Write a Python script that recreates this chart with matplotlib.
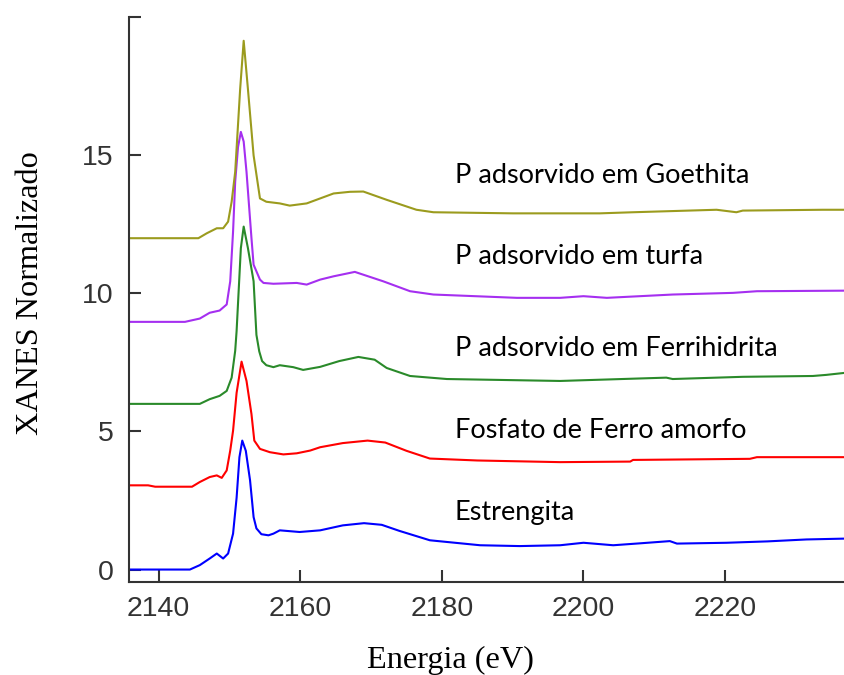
import matplotlib
matplotlib.use("Agg")
import matplotlib.pyplot as plt

# energia (eV) e intensidade XANES normalizada (com deslocamento vertical)
estrengita_e = [2135.8, 2144.4, 2145.8, 2147.2, 2148.2, 2149.1, 2149.8, 2150.5, 2151.0, 2151.4,
                2151.8, 2152.3, 2152.9, 2153.4, 2153.8, 2154.5, 2155.5, 2156.2, 2157.1, 2159.9,
                2162.8, 2166.0, 2169.0, 2171.5, 2174.0, 2178.3, 2185.4, 2191.0, 2196.7, 2200.0,
                2204.2, 2208.0, 2212.2, 2213.2, 2220.2, 2226.0, 2231.5, 2236.8]
estrengita_y = [0.0, 0.0, 0.16, 0.40, 0.58, 0.40, 0.58, 1.3, 2.6, 4.07,
                4.67, 4.3, 3.23, 1.9, 1.49, 1.28, 1.24, 1.3, 1.42, 1.36,
                1.42, 1.6, 1.68, 1.62, 1.4, 1.06, 0.88, 0.85, 0.88, 0.97,
                0.88, 0.95, 1.03, 0.94, 0.97, 1.02, 1.09, 1.12]

fosfato_e = [2135.8, 2138.5, 2139.5, 2144.7, 2145.8, 2147.2, 2148.2, 2148.9, 2149.6, 2150.1,
             2150.5, 2151.0, 2151.7, 2152.4, 2153.1, 2153.5, 2154.3, 2155.7, 2157.6, 2159.5,
             2161.4, 2162.8, 2166.0, 2169.5, 2172.0, 2175.0, 2178.3, 2185.0, 2196.7, 2206.6,
             2207.0, 2223.5, 2224.5, 2236.8]
fosfato_y = [3.05, 3.05, 3.0, 3.0, 3.17, 3.35, 3.41, 3.32, 3.59, 4.31,
             5.03, 6.4, 7.53, 6.83, 5.63, 4.67, 4.37, 4.25, 4.17, 4.21,
             4.31, 4.43, 4.58, 4.67, 4.6, 4.3, 4.02, 3.95, 3.89, 3.91,
             3.97, 4.01, 4.07, 4.07]

ferri_e = [2135.8, 2145.8, 2147.2, 2148.6, 2149.6, 2150.3, 2150.8, 2151.0, 2151.6, 2152.0,
           2152.6, 2153.4, 2153.8, 2154.2, 2154.6, 2155.2, 2156.2, 2157.1, 2159.0, 2160.4,
           2162.8, 2165.5, 2168.2, 2170.5, 2172.2, 2175.5, 2180.7, 2196.7, 2211.7, 2212.6,
           2222.5, 2232.4, 2234.3, 2236.8]
ferri_y = [6.0, 6.0, 6.17, 6.29, 6.47, 6.95, 7.92, 8.64, 11.64, 12.42,
           11.64, 10.44, 8.5, 7.9, 7.55, 7.4, 7.33, 7.4, 7.33, 7.23,
           7.34, 7.55, 7.7, 7.6, 7.3, 7.01, 6.9, 6.83, 6.95, 6.9,
           6.98, 7.01, 7.05, 7.12]

turfa_e = [2135.8, 2143.7, 2145.8, 2147.2, 2148.6, 2149.6, 2150.1, 2150.5, 2150.8, 2151.2,
           2151.6, 2152.0, 2152.4, 2153.1, 2153.4, 2153.8, 2154.3, 2154.8, 2156.2, 2159.5,
           2160.9, 2162.8, 2164.7, 2167.7, 2171.7, 2175.5, 2178.8, 2190.6, 2196.7, 2200.0,
           2203.3, 2212.6, 2221.1, 2224.5, 2236.8]
turfa_y = [8.97, 8.97, 9.09, 9.3, 9.38, 9.6, 10.44, 12.24, 14.05, 15.3,
           15.85, 15.5, 14.4, 12.0, 11.04, 10.8, 10.5, 10.38, 10.35, 10.38,
           10.32, 10.5, 10.62, 10.78, 10.44, 10.08, 9.96, 9.84, 9.84, 9.9,
           9.84, 9.96, 10.02, 10.08, 10.1]

goethita_e = [2135.8, 2145.6, 2146.8, 2148.2, 2149.1, 2149.8, 2150.3, 2150.8, 2151.5, 2152.0,
              2152.6, 2153.4, 2154.3, 2155.2, 2157.1, 2158.5, 2160.9, 2164.7, 2167.0, 2168.9,
              2172.2, 2176.4, 2178.8, 2190.0, 2202.3, 2207.0, 2218.8, 2221.6, 2222.5, 2233.8,
              2236.8]
goethita_y = [12.0, 12.0, 12.18, 12.36, 12.36, 12.6, 13.32, 14.4, 17.4, 19.15,
              17.4, 15.0, 13.44, 13.32, 13.26, 13.18, 13.26, 13.62, 13.68, 13.69,
              13.39, 13.03, 12.94, 12.9, 12.9, 12.94, 13.03, 12.94, 13.0, 13.03,
              13.03]

rotulos = ["Estrengita", "Fosfato de Ferro amorfo", "P adsorvido em Ferrihidrita",
           "P adsorvido em turfa", "P adsorvido em Goethita"]
rotulo_y = [2.07, 5.03, 7.99, 11.34, 14.26]
rotulo_x = 2181.8

fig = plt.figure(figsize=(8.44, 6.75), dpi=100)
ax = fig.add_axes([129/844, 93.3/675, 715/844, 564.4/675])

series = [
    (estrengita_e, estrengita_y, "#0000ff"),
    (fosfato_e, fosfato_y, "#ff0000"),
    (ferri_e, ferri_y, "#2a8a2a"),
    (turfa_e, turfa_y, "#a52ff0"),
    (goethita_e, goethita_y, "#9b9b1e"),
]
for e, y, c in series:
    ax.plot(e, y, color=c, lw=1.5)

for txt, yy in zip(rotulos, rotulo_y):
    ax.text(rotulo_x, yy, txt, fontsize=19.5, family="Lato", va="center", ha="left")

ax.set_xlim(2135.8, 2236.8)
ax.set_ylim(-0.44, 20)
ax.set_xticks([2140, 2160, 2180, 2200, 2220])
ax.set_yticks([0, 5, 10, 15, 20])
ax.set_yticklabels(["0", "5", "10", "15", ""])

for s in ["top", "right"]:
    ax.spines[s].set_visible(False)
for s in ["left", "bottom"]:
    ax.spines[s].set_color("#333333")
    ax.spines[s].set_linewidth(1.5)

ax.tick_params(direction="in", length=8.5, width=1.5, color="#333333",
               labelcolor="#333333", labelsize=20.5)
ax.tick_params(axis="x", pad=10)
ax.tick_params(axis="y", pad=11)
for lab in ax.get_xticklabels() + ax.get_yticklabels():
    lab.set_family(["Liberation Sans", "DejaVu Sans"])

ax.set_xlabel("Energia (eV)", fontsize=23.2, family="Liberation Serif")
ax.xaxis.set_label_coords(0.45, -0.139)
ax.xaxis.label.set_va("center")
ax.set_ylabel("XANES Normalizado", fontsize=23.2, family="Liberation Serif")
ax.yaxis.set_label_coords(-0.138, 0.511)
ax.yaxis.label.set_va("center")

fig.savefig("out.png", dpi=100)
